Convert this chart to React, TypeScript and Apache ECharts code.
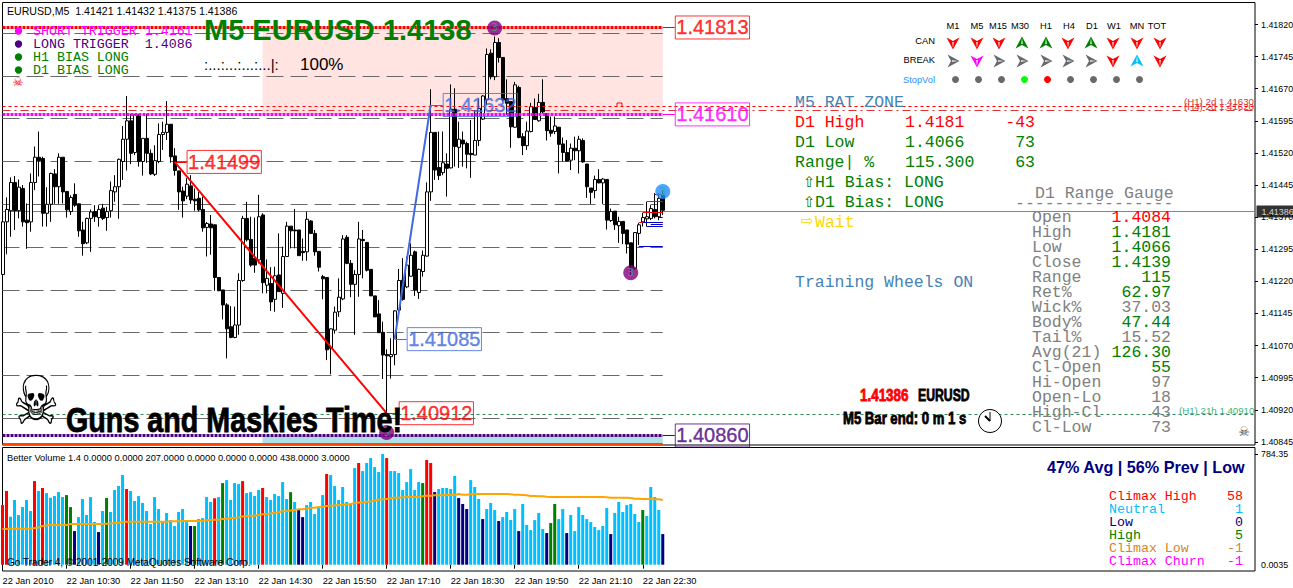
import React, { useEffect, useRef } from "react";
import * as echarts from "echarts";

// Prices are written in points above 1.40000: [open, close, low, high]
const candlePoints: number[][] = [
[1236,1359,1219,1377],[1359,1388,1283,1416],[1385,1451,1324,1463],[1451,1385,1340,1466],[1385,1440,1367,1458],[1437,1359,1348,1445],[1363,1357,1296,1402],[1359,1451,1336,1472],[1451,1510,1433,1535],[1510,1502,1465,1570],
[1507,1379,1348,1511],[1379,1400,1348,1440],[1400,1472,1359,1474],[1471,1441,1401,1482],[1441,1510,1401,1519],[1510,1429,1402,1510],[1430,1387,1369,1430],[1383,1416,1375,1421],[1423,1398,1394,1449],[1401,1338,1324,1402],
[1340,1308,1280,1359],[1310,1367,1307,1369],[1367,1382,1289,1388],[1383,1371,1359,1398],[1369,1388,1348,1398],[1391,1367,1363,1401],[1369,1383,1338,1394],[1385,1432,1369,1453],[1429,1441,1406,1468],[1441,1505,1366,1507],
[1500,1552,1457,1583],[1552,1595,1479,1653],[1595,1519,1494,1611],[1521,1609,1515,1611],[1609,1500,1488,1611],[1500,1554,1467,1554],[1554,1519,1497,1611],[1519,1471,1468,1528],[1470,1502,1466,1538],[1500,1563,1496,1589],
[1563,1568,1527,1593],[1568,1587,1550,1641],[1587,1511,1497,1587],[1513,1479,1467,1531],[1478,1429,1387,1478],[1431,1408,1369,1441],[1419,1447,1412,1461],[1443,1410,1401,1468],[1412,1408,1385,1437],[1414,1387,1383,1429],
[1388,1345,1336,1418],[1346,1355,1278,1359],[1354,1345,1282,1375],[1352,1229,1198,1353],[1229,1198,1198,1229],[1200,1165,1131,1200],[1165,1109,1040,1169],[1114,1089,1087,1162],[1089,1118,1087,1161],[1118,1222,1095,1239],
[1222,1367,1219,1373],[1367,1317,1313,1406],[1318,1258,1254,1371],[1274,1258,1240,1369],[1270,1371,1262,1422],[1375,1217,1192,1379],[1211,1227,1192,1271],[1215,1172,1151,1253],[1178,1233,1149,1254],[1235,1196,1196,1332],
[1192,1278,1158,1301],[1278,1349,1278,1359],[1349,1338,1297,1349],[1340,1338,1297,1389],[1340,1280,1280,1340],[1290,1287,1268,1320],[1289,1365,1268,1383],[1361,1332,1331,1363],[1332,1289,1280,1340],[1290,1253,1243,1290],
[1231,1226,1178,1235],[1229,1060,1036,1229],[1063,1109,1003,1110],[1106,1148,1098,1161],[1149,1183,1137,1227],[1179,1319,1176,1328],[1323,1262,1260,1328],[1262,1213,1183,1270],[1213,1236,1095,1246],[1236,1319,1184,1359],
[1318,1315,1227,1340],[1311,1246,1243,1311],[1248,1186,1186,1248],[1186,1137,1137,1186],[1144,1100,1100,1176],[1101,1048,992,1126],[1049,1046,912,1061],[1044,1049,993,1087],[1049,1151,1024,1153],[1153,1222,1149,1249],
[1223,1178,1175,1274],[1207,1258,1204,1278],[1232,1281,1231,1309],[1289,1200,1186,1292],[1194,1248,1179,1250],[1243,1281,1231,1292],[1279,1429,1278,1451],[1429,1568,1408,1669],[1568,1480,1457,1568],[1486,1467,1457,1570],
[1474,1497,1468,1570],[1494,1484,1418,1519],[1485,1622,1484,1680],[1622,1535,1488,1671],[1533,1552,1485,1593],[1550,1541,1488,1570],[1542,1517,1484,1546],[1519,1516,1462,1597],[1515,1549,1515,1620],[1549,1624,1536,1647],
[1599,1653,1597,1655],[1644,1750,1632,1764],[1753,1698,1692,1762],[1698,1778,1690,1792],[1778,1743,1731,1788],[1743,1644,1640,1743],[1647,1636,1609,1692],[1640,1581,1532,1640],[1580,1679,1579,1686],[1673,1556,1554,1677],
[1558,1537,1515,1566],[1537,1571,1527,1593],[1570,1628,1568,1637],[1626,1598,1597,1647],[1595,1638,1593,1658],[1638,1616,1612,1692],[1612,1572,1549,1612],[1573,1566,1558,1605],[1570,1583,1564,1605],[1580,1540,1472,1581],
[1541,1521,1500,1556],[1521,1501,1500,1550],[1503,1531,1480,1542],[1531,1525,1503,1558],[1525,1552,1472,1560],[1549,1499,1497,1554],[1494,1441,1415,1494],[1438,1428,1401,1438],[1432,1458,1414,1467],[1458,1450,1449,1482],
[1450,1459,1401,1461],[1458,1363,1341,1458],[1362,1383,1359,1390],[1384,1352,1340,1384],[1350,1360,1310,1371],[1360,1332,1307,1360],[1340,1307,1285,1340],[1310,1250,1235,1310],[1250,1334,1246,1335],[1332,1352,1305,1356],
[1359,1369,1348,1380],[1366,1371,1348,1406],[1367,1390,1363,1398],[1388,1371,1367,1426],[1371,1414,1363,1426],[1421,1386,1375,1432],
];

const volumes: number[] = [
422,522,340,458,352,408,458,380,592,522,543,507,474,486,514,479,493,408,238,337,465,352,479,302,231,380,472,373,529,557,
635,536,522,451,486,437,380,288,479,394,302,366,316,274,373,394,302,274,274,323,330,479,444,470,479,578,599,458,578,571,
592,507,514,486,529,543,479,458,500,486,585,465,514,444,387,337,422,444,359,401,493,642,635,557,458,550,444,430,684,720,
663,720,755,691,656,784,755,663,663,649,529,585,677,529,585,578,741,720,514,536,543,543,536,628,472,430,394,599,550,465,
323,394,437,387,309,337,373,316,394,238,430,281,245,316,366,253,224,295,430,323,394,224,352,238,408,352,323,302,267,245,
274,401,217,366,444,373,422,430,359,302,387,345,550,479,387,217,
];

// Bars that are not neutral, by their class
const climaxHighBars = [0,1,8,10,31,53,60,65,81,89,96,106,107];
const highBars = [16,17,26,48,55,72,105,137,138,160];
const lowBars = [18,24,47,74,75,108,114,115,116,120,124,129,136,141,152,165];

const volumeAverage: number[] = [
253,253,255,255,255,255,255,257,260,264,274,278,281,281,281,281,281,288,288,288,288,288,288,288,288,288,290,292,296,296,
302,304,304,304,304,304,304,304,304,304,304,304,307,307,307,309,309,309,309,309,312,315,317,319,319,324,326,330,330,335,
342,345,347,347,352,357,359,362,368,372,378,380,383,388,392,392,398,404,404,408,410,415,418,420,422,424,427,430,436,441,
441,446,448,455,460,463,465,470,474,474,477,479,479,479,481,484,489,489,491,491,491,493,493,493,500,495,495,498,500,500,
500,500,500,500,500,500,500,498,495,495,493,491,486,486,484,484,481,479,479,479,479,479,479,479,479,479,479,479,479,479,
479,477,474,474,474,474,474,472,467,467,465,465,465,463,463,458,
];

const tickLabels = ["22 Jan 2010","22 Jan 10:30","22 Jan 11:50","22 Jan 13:10","22 Jan 14:30","22 Jan 15:50","22 Jan 17:10","22 Jan 18:30","22 Jan 19:50","22 Jan 21:10","22 Jan 22:30"];
const priceTicks = [1.4182,1.41745,1.4167,1.41595,1.4152,1.41445,1.4137,1.41295,1.4122,1.41145,1.4107,1.40995,1.4092,1.40845];
const roundLevels = [1.418,1.417,1.416,1.415,1.414,1.413,1.412,1.411,1.41,1.409];

const gaugeRows: [string,string,string][] = [
["Open","1.4084","#ff0000"],["High","1.4181","#008000"],["Low","1.4066","#008000"],["Close","1.4139","#008000"],["Range","115","#008000"],
["Ret%","62.97","#008000"],["Wick%","37.03","#808080"],["Body%","47.44","#008000"],["Tail%","15.52","#808080"],["Avg(21)","126.30","#008000"],
["Cl-Open","55","#008000"],["Hi-Open","97","#808080"],["Open-Lo","18","#808080"],["High-Cl","43","#808080"],["Cl-Low","73","#808080"],
];
const volumeLegend: [string,string,string][] = [
["Climax High","58","#ff0000"],["Neutral","1","#00bfff"],["Low","0","#000080"],["High","5","#008000"],["Climax Low","-1","#d2852e"],["Climax Churn","-1","#ff00ff"],
];
const matrixHeads = ["M1","M5","M15","M30","H1","H4","D1","W1","MN","TOT"];
const canRow = ["d","d","d","u","u","d","u","d","d","d"];
const breakRow = ["r","d","r","r","r","r","r","d","u","d"];
const breakColors = ["#696969","#ff00ff","#696969","#696969","#696969","#696969","#696969","#ff0000","#00bfff","#ff0000"];
const stopVolColors = ["#696969","#696969","#696969","#00ff00","#ff0000","#696969","#696969","#696969","#696969"];

const BAR_SLOTS = 314;
const LAST = candlePoints.length - 1;
const px = (p: number) => 1.4 + p / 1e5;

const MONO = "'Liberation Mono', monospace";
const SANS = "'Liberation Sans', Arial, sans-serif";
const UI = "'DejaVu Sans', sans-serif";

const seg = (x0: number, x1: number, p: number) => [{ coord: [x0, p] }, { coord: [x1, p] }];
const linesSeries = (name: string, data: any[], color: string, width: number, type: any, z: number, extra: any = {}) => ({
  name, type: "line", xAxisIndex: 0, yAxisIndex: 0, data: [], z, silent: true,
  markLine: { silent: true, symbol: ["none", "none"], animation: false, z, label: { show: false }, lineStyle: { color, width, type, opacity: 1 }, emphasis: { disabled: true }, data },
  ...extra,
});
const txt = (x: number, y: number, text: string, fill: string, font: string, align = "left") => ({
  type: "text", z: 50, silent: true,
  style: { x, y, text, fill, font, textAlign: align, textVerticalAlign: "middle" },
});
// heavy condensed text: the face is squeezed by a scale about its start point
const heavy = (x: number, y: number, text: string, fill: string, size: number, scaleX: number, scaleY = 1) => ({
  type: "text", z: 50, silent: true, x, y, scaleX, scaleY,
  style: { x: 0, y: 0, text, fill, font: `bold ${size}px ${SANS}`, textAlign: "left", textVerticalAlign: "middle", stroke: fill, lineWidth: 0.8 },
});
const mono = (x: number, y: number, t: string, fill: string, size = 16.5, align = "left") => txt(x, y, t, fill, `${size}px ${MONO}`, align);

function navArrow(cx: number, cy: number, dir: string, color: string) {
  const base = [[-6.5,-5.5],[0,-2],[6.5,-5.5],[0,6.5]];
  const inner = [[-1,-1],[0,5],[1,-1]];
  const map = (p: number[]) => dir === "d" ? [cx+p[0],cy+p[1]] : dir === "u" ? [cx+p[0],cy-p[1]] : [cx+p[1],cy+p[0]];
  return [
    { type: "polygon", z: 50, silent: true, shape: { points: base.map(map) }, style: { fill: color, stroke: null } },
    { type: "polygon", z: 51, silent: true, shape: { points: inner.map(map) }, style: { fill: "#ffffff", opacity: 0.75, stroke: null } },
  ];
}

function buildGraphics() {
  const g: any[] = [];
  g.push(txt(7, 10.5, "EURUSD,M5  1.41421 1.41432 1.41375 1.41386", "#000", `10.6px ${SANS}`));
  g.push(mono(33, 31, "SHORT TRIGGER 1.4161", "#ff00ff", 13.3), mono(33, 44, "LONG TRIGGER  1.4086", "#4b0082", 13.3), mono(33, 57, "H1 BIAS LONG", "#008000", 13.3), mono(33, 70, "D1 BIAS LONG", "#008000", 13.3));
  [["#ff00ff",31],["#4b0082",44],["#008000",57],["#008000",70]].forEach(([c,y]) => g.push({ type: "circle", z: 50, silent: true, shape: { cx: 18.5, cy: y, r: 3.7 }, style: { fill: c } }));
  g.push(txt(18, 82, "☠", "#ff0000", `12px ${UI}`, "center"));
  g.push(txt(204, 30, "M5 EURUSD 1.4138", "#008000", `bold 29px ${SANS}`));
  g.push(txt(204, 64.5, ":...:...:...:...|:", "#000", `15px ${SANS}`), txt(300, 64, "100%", "#000", `17px ${SANS}`));

  const headX = [953,977,998,1020,1046,1069,1092,1114,1137,1157];
  const cellX = [953,977,999,1022,1046,1068,1091,1113,1137,1160];
  matrixHeads.forEach((h,i) => g.push(txt(headX[i], 25.5, h, "#000", `9.3px ${SANS}`, "center")));
  g.push(txt(935, 41, "CAN", "#000", `9.3px ${SANS}`, "right"), txt(935, 60, "BREAK", "#000", `9.3px ${SANS}`, "right"), txt(935, 79.5, "StopVol", "#1e90ff", `9.3px ${SANS}`, "right"));
  canRow.forEach((d,i) => g.push(...navArrow(cellX[i], 43, d, d === "u" ? "#008000" : "#ff0000")));
  breakRow.forEach((d,i) => g.push(...navArrow(cellX[i], 61, d, breakColors[i])));
  stopVolColors.forEach((c,i) => g.push({ type: "circle", z: 50, silent: true, shape: { cx: 955.5 + i*23, cy: 79.5, r: 3.5 }, style: { fill: c } }));

  g.push(mono(795, 102, "M5 RAT ZONE", "#4682b4"));
  g.push(mono(795, 122, "D1 High", "#ff0000"), mono(905, 122, "1.4181", "#ff0000"), mono(1035, 122, "-43", "#ff0000", 16.5, "right"));
  g.push(mono(795, 142, "D1 Low", "#008000"), mono(905, 142, "1.4066", "#008000"), mono(1035, 142, "73", "#008000", 16.5, "right"));
  g.push(mono(795, 162, "Range| %", "#008000"), mono(905, 162, "115.300", "#008000"), mono(1035, 162, "63", "#008000", 16.5, "right"));
  g.push(txt(803, 182, "⇧", "#008000", `15px ${UI}`), mono(815, 182, "H1 Bias: LONG", "#008000"));
  g.push(txt(803, 202, "⇧", "#008000", `15px ${UI}`), mono(815, 202, "D1 Bias: LONG", "#008000"));
  g.push(txt(801, 221, "⇨", "#ffd700", `15px ${UI}`), mono(815, 222, "Wait", "#ffd700"));
  g.push(mono(795, 282.5, "Training Wheels ON", "#4682b4"));

  g.push(mono(1035, 193, "D1 Range Gauge", "#808080"), mono(1015, 203, "----------------", "#808080"));
  gaugeRows.forEach((r,i) => {
    const y = 217.5 + i*15;
    g.push(mono(1032, y, r[0], "#808080"), mono(1171, y, r[1], r[2], 16.5, "right"));
  });

  g.push(heavy(860, 395, "1.41386", "#ff0000", 17, 0.79), heavy(918, 395, "EURUSD", "#000", 17, 0.72));
  g.push(heavy(843, 419, "M5 Bar end: 0 m 1 s", "#000", 16, 0.82));
  g.push({ type: "circle", z: 50, silent: true, shape: { cx: 990, cy: 421, r: 11.5 }, style: { fill: "#fff", stroke: "#000", lineWidth: 1 } });
  g.push({ type: "line", z: 51, silent: true, shape: { x1: 990, y1: 421, x2: 990, y2: 412 }, style: { stroke: "#000", lineWidth: 1 } });
  g.push({ type: "line", z: 51, silent: true, shape: { x1: 990, y1: 421, x2: 985, y2: 416 }, style: { stroke: "#000", lineWidth: 2 } });
  g.push(txt(1244, 431, "☠", "#444", `13px ${UI}`, "center"));

  g.push({ type: "text", z: 50, silent: true, x: 36, y: 400, scaleY: 1.3, style: { x: 0, y: 0, text: "☠", fill: "#000", font: `52px ${UI}`, textAlign: "center", textVerticalAlign: "middle" } });
  g.push(heavy(66, 420, "Guns and Maskies Time!", "#000", 35, 0.82));

  g.push(txt(1184, 101, "(H1) 2d 1.41630", "#e03030", `9.7px ${SANS}`), txt(1184, 106, "(H4) 2d 1.41620", "#e03030", `9.7px ${SANS}`));
  g.push(txt(1179, 410, "(H1) 21h 1.40910", "#3cb371", `9.7px ${SANS}`));
  g.push({ type: "polyline", z: 50, silent: true, shape: { points: [[617,106],[617,103],[622,103],[622,106]] }, style: { stroke: "#ff0000", lineWidth: 1, fill: null } });

  g.push(txt(7, 457.5, "Better Volume 1.4 0.0000 0.0000 207.0000 0.0000 0.0000 0.0000 438.0000 3.0000", "#000", `9.3px ${SANS}`));
  g.push(txt(7, 562.5, "Go Trader 4, © 2001-2009 MetaQuotes Software Corp.", "#000", `10px ${SANS}`));
  g.push(txt(1047, 467, "47% Avg | 56% Prev | Low", "#000080", `bold 16.2px ${SANS}`));
  volumeLegend.forEach((r,i) => {
    const y = 496 + i*13;
    g.push(mono(1109, y, r[0], r[2], 13.3), mono(1243, y, r[1], r[2], 13.3, "right"));
  });
  return g;
}

const boxLabel = (i: number, p: number, text: string, color: string) => ({
  value: [i, p],
  label: { show: true, position: "right", distance: 0, formatter: text, color, fontFamily: SANS, fontSize: 20, lineHeight: 22, padding: [1, 1, 0, 1], borderColor: color, borderWidth: 1, textBorderColor: color, textBorderWidth: 0.4 },
});

function buildOption(): any {
  const categories: string[] = Array.from({ length: BAR_SLOTS }, () => "");
  tickLabels.forEach((t, k) => { categories[k * 16] = t; });
  const candleData = candlePoints.map((c) => c.map(px));
  const barColor = (i: number) => climaxHighBars.includes(i) ? "#ff0000" : highBars.includes(i) ? "#008000" : lowBars.includes(i) ? "#000080" : "#00bfff";

  return {
    animation: false,
    backgroundColor: "#fff",
    graphic: { elements: buildGraphics() },
    grid: [
      { left: 2.5, top: 2.5, width: 1252.5, height: 442.5, show: true, borderColor: "#000", borderWidth: 1, backgroundColor: "#fff", outerBoundsMode: "none" },
      { left: 2.5, top: 447.5, width: 1252.5, height: 123.5, show: true, borderColor: "#000", borderWidth: 1, backgroundColor: "#fff", outerBoundsMode: "none" },
    ],
    xAxis: [
      { type: "category", gridIndex: 0, data: categories, boundaryGap: false, axisLine: { show: false }, axisTick: { show: false }, axisLabel: { show: false }, splitLine: { show: false } },
      { type: "category", gridIndex: 1, data: categories, boundaryGap: false,
        axisLine: { show: false },
        axisTick: { show: true, length: 4, lineStyle: { color: "#000" }, interval: (i: number) => categories[i] !== "" },
        axisLabel: { show: true, align: "left", margin: 5, color: "#000", fontFamily: SANS, fontSize: 9.3, interval: (i: number) => categories[i] !== "", formatter: (v: string) => v, hideOverlap: false },
        splitLine: { show: false } },
    ],
    yAxis: [
      { type: "value", gridIndex: 0, position: "right", min: 1.408377, max: 1.418714, scale: true, splitLine: { show: false }, axisLine: { show: false },
        axisTick: { show: true, length: 3, lineStyle: { color: "#000" }, customValues: priceTicks },
        axisLabel: { show: true, margin: 6, color: "#000", fontFamily: SANS, fontSize: 8.9, customValues: priceTicks, formatter: (v: number) => v.toFixed(5), hideOverlap: false } },
      { type: "value", gridIndex: 1, position: "right", min: -44.6, max: 829.8, splitLine: { show: false }, axisLine: { show: false },
        axisTick: { show: true, length: 3, lineStyle: { color: "#000" }, customValues: [0, 784.35] },
        axisLabel: { show: true, margin: 6, color: "#000", fontFamily: SANS, fontSize: 8.9, customValues: [0, 0.0001, 784.35], formatter: (v: number) => v === 0 ? "0.00" : v < 1 ? "0.0035" : v.toFixed(2), hideOverlap: false } },
    ],
    series: [
      { name: "zones", type: "line", xAxisIndex: 0, yAxisIndex: 0, data: [], z: 1, silent: true,
        markArea: { silent: true, animation: false, z: 1, label: { show: false }, data: [
          [{ coord: [65, 1.41813], itemStyle: { color: "#ffe4e1", opacity: 1 } }, { coord: [LAST, 1.4161] }],
          [{ coord: [65, 1.4086], itemStyle: { color: "#b0e0e6", opacity: 1 } }, { coord: [LAST, 1.40842] }],
        ] } },
      linesSeries("levels", roundLevels.map((p) => seg(0, LAST, p)), "#696969", 1, [17, 7], 2),
      linesSeries("priceLine", [seg(0, BAR_SLOTS - 1, 1.41383)], "#778899", 1, "solid", 2),
      linesSeries("h4", [seg(0, BAR_SLOTS - 1, 1.4162)], "#e03030", 1, [8, 4, 2, 4], 2),
      { name: "candles", type: "candlestick", xAxisIndex: 0, yAxisIndex: 0, data: candleData, barWidth: 3.5, clip: false, z: 3, silent: true,
        itemStyle: { color: "#ffffff", color0: "#000000", borderColor: "#000000", borderColor0: "#000000", borderWidth: 1 } },
      linesSeries("h1", [seg(0, BAR_SLOTS - 1, 1.4163)], "#ff0000", 1, [3, 3], 4),
      linesSeries("h1low", [seg(0, BAR_SLOTS - 1, 1.4091)], "#2e8b57", 1, [3, 3], 4),
      linesSeries("short", [seg(0, LAST, 1.41813)], "#ff0000", 3, [3, 1], 4),
      linesSeries("trigger", [seg(0, LAST, 1.4161)], "#ff00ff", 3, [3, 1], 4),
      linesSeries("long", [seg(0, LAST, 1.4086)], "#4b0082", 3, [3, 1], 4),
      linesSeries("floor", [seg(0, LAST, 1.4084)], "#ff4500", 2, "solid", 4),
      linesSeries("shortTag", [seg(LAST, LAST + 3, 1.41813)], "#ff0000", 1, "solid", 4),
      linesSeries("triggerTag", [seg(LAST, LAST + 3, 1.4161)], "#ff00ff", 1, "solid", 4),
      linesSeries("longTag", [seg(LAST, LAST + 3, 1.4086)], "#4b0082", 1, "solid", 4),
      { name: "fallLine", type: "line", xAxisIndex: 0, yAxisIndex: 0, z: 5, silent: true, showSymbol: false, data: [[43, 1.41499], [96, 1.40912]], lineStyle: { color: "#ff0000", width: 2 } },
      { name: "riseLine", type: "line", xAxisIndex: 0, yAxisIndex: 0, z: 5, silent: true, showSymbol: false, data: [[98, 1.41085], [107, 1.41632]], lineStyle: { color: "#4169e1", width: 2 } },
      linesSeries("fallTags", [seg(43, 46, 1.41499), seg(96, 99, 1.40912)], "#ff0000", 1, "solid", 5),
      linesSeries("riseTags", [seg(98, 101, 1.41085), seg(107, 110, 1.41632)], "#4169e1", 1, "solid", 5),
      linesSeries("stepsRed", [seg(159, LAST, 1.41359), seg(160, LAST, 1.41381), seg(161, LAST, 1.41406), seg(163, LAST, 1.41424)], "#ff0000", 1, "solid", 4),
      linesSeries("stepsBlue", [seg(159, LAST, 1.41303), seg(160, LAST, 1.41358), seg(161, LAST, 1.41348), seg(162, LAST, 1.41354), seg(164, LAST, 1.41369)], "#0000cd", 1, "solid", 4),
      { name: "boxes", type: "scatter", xAxisIndex: 0, yAxisIndex: 0, z: 6, silent: true, symbolSize: 1, itemStyle: { color: "rgba(0,0,0,0)" }, clip: false,
        data: [
          boxLabel(LAST + 3, 1.41813, "1.41813", "#ff0000"),
          boxLabel(LAST + 3, 1.4161, "1.41610", "#ff00ff"),
          boxLabel(LAST + 3, 1.4086, "1.40860", "#4b0082"),
          boxLabel(46, 1.41499, "1.41499", "#ff0000"),
          boxLabel(99, 1.40912, "1.40912", "#ff0000"),
          boxLabel(101, 1.41085, "1.41085", "#4169e1"),
          boxLabel(110, 1.41632, "1.41632", "#4169e1"),
        ] },
      { name: "priceTag", type: "scatter", xAxisIndex: 0, yAxisIndex: 0, z: 60, silent: true, symbolSize: 1, itemStyle: { color: "rgba(0,0,0,0)" }, clip: false,
        data: [{ value: [BAR_SLOTS - 1, 1.41383],
          label: { show: true, position: "right", distance: 1, formatter: "1.41386", color: "#fff", backgroundColor: "#000", fontFamily: SANS, fontSize: 8.9, padding: [2, 2, 1, 5] } }] },
      { name: "signals", type: "scatter", xAxisIndex: 0, yAxisIndex: 0, z: 7, silent: true, symbolSize: 15,
        label: { show: true, position: "inside", formatter: "3", fontSize: 10, color: "#3ca080", fontFamily: UI },
        data: [
          { value: [123, 1.41812], itemStyle: { color: "#800080" } },
          { value: [157, 1.4124], itemStyle: { color: "#800080" } },
          { value: [96, 1.40867], itemStyle: { color: "#800080" } },
          { value: [165, 1.4143], itemStyle: { color: "#1e90ff" } },
        ] },
      { name: "volume", type: "bar", xAxisIndex: 1, yAxisIndex: 1, barWidth: 3, silent: true, clip: false, z: 2,
        data: volumes.map((v, i) => ({ value: v, itemStyle: { color: barColor(i) } })) },
      { name: "volumeAvg", type: "line", xAxisIndex: 1, yAxisIndex: 1, silent: true, showSymbol: false, z: 3, data: volumeAverage, lineStyle: { color: "#ffa500", width: 2 } },
    ],
  };
}

export default function App() {
  const ref = useRef<HTMLDivElement>(null);
  useEffect(() => {
    const chart = echarts.init(ref.current!, undefined, { renderer: "svg" });
    chart.setOption(buildOption());
    return () => chart.dispose();
  }, []);
  return <div ref={ref} style={{ position: "fixed", left: 0, top: 0, width: 1293, height: 588 }} />;
}
